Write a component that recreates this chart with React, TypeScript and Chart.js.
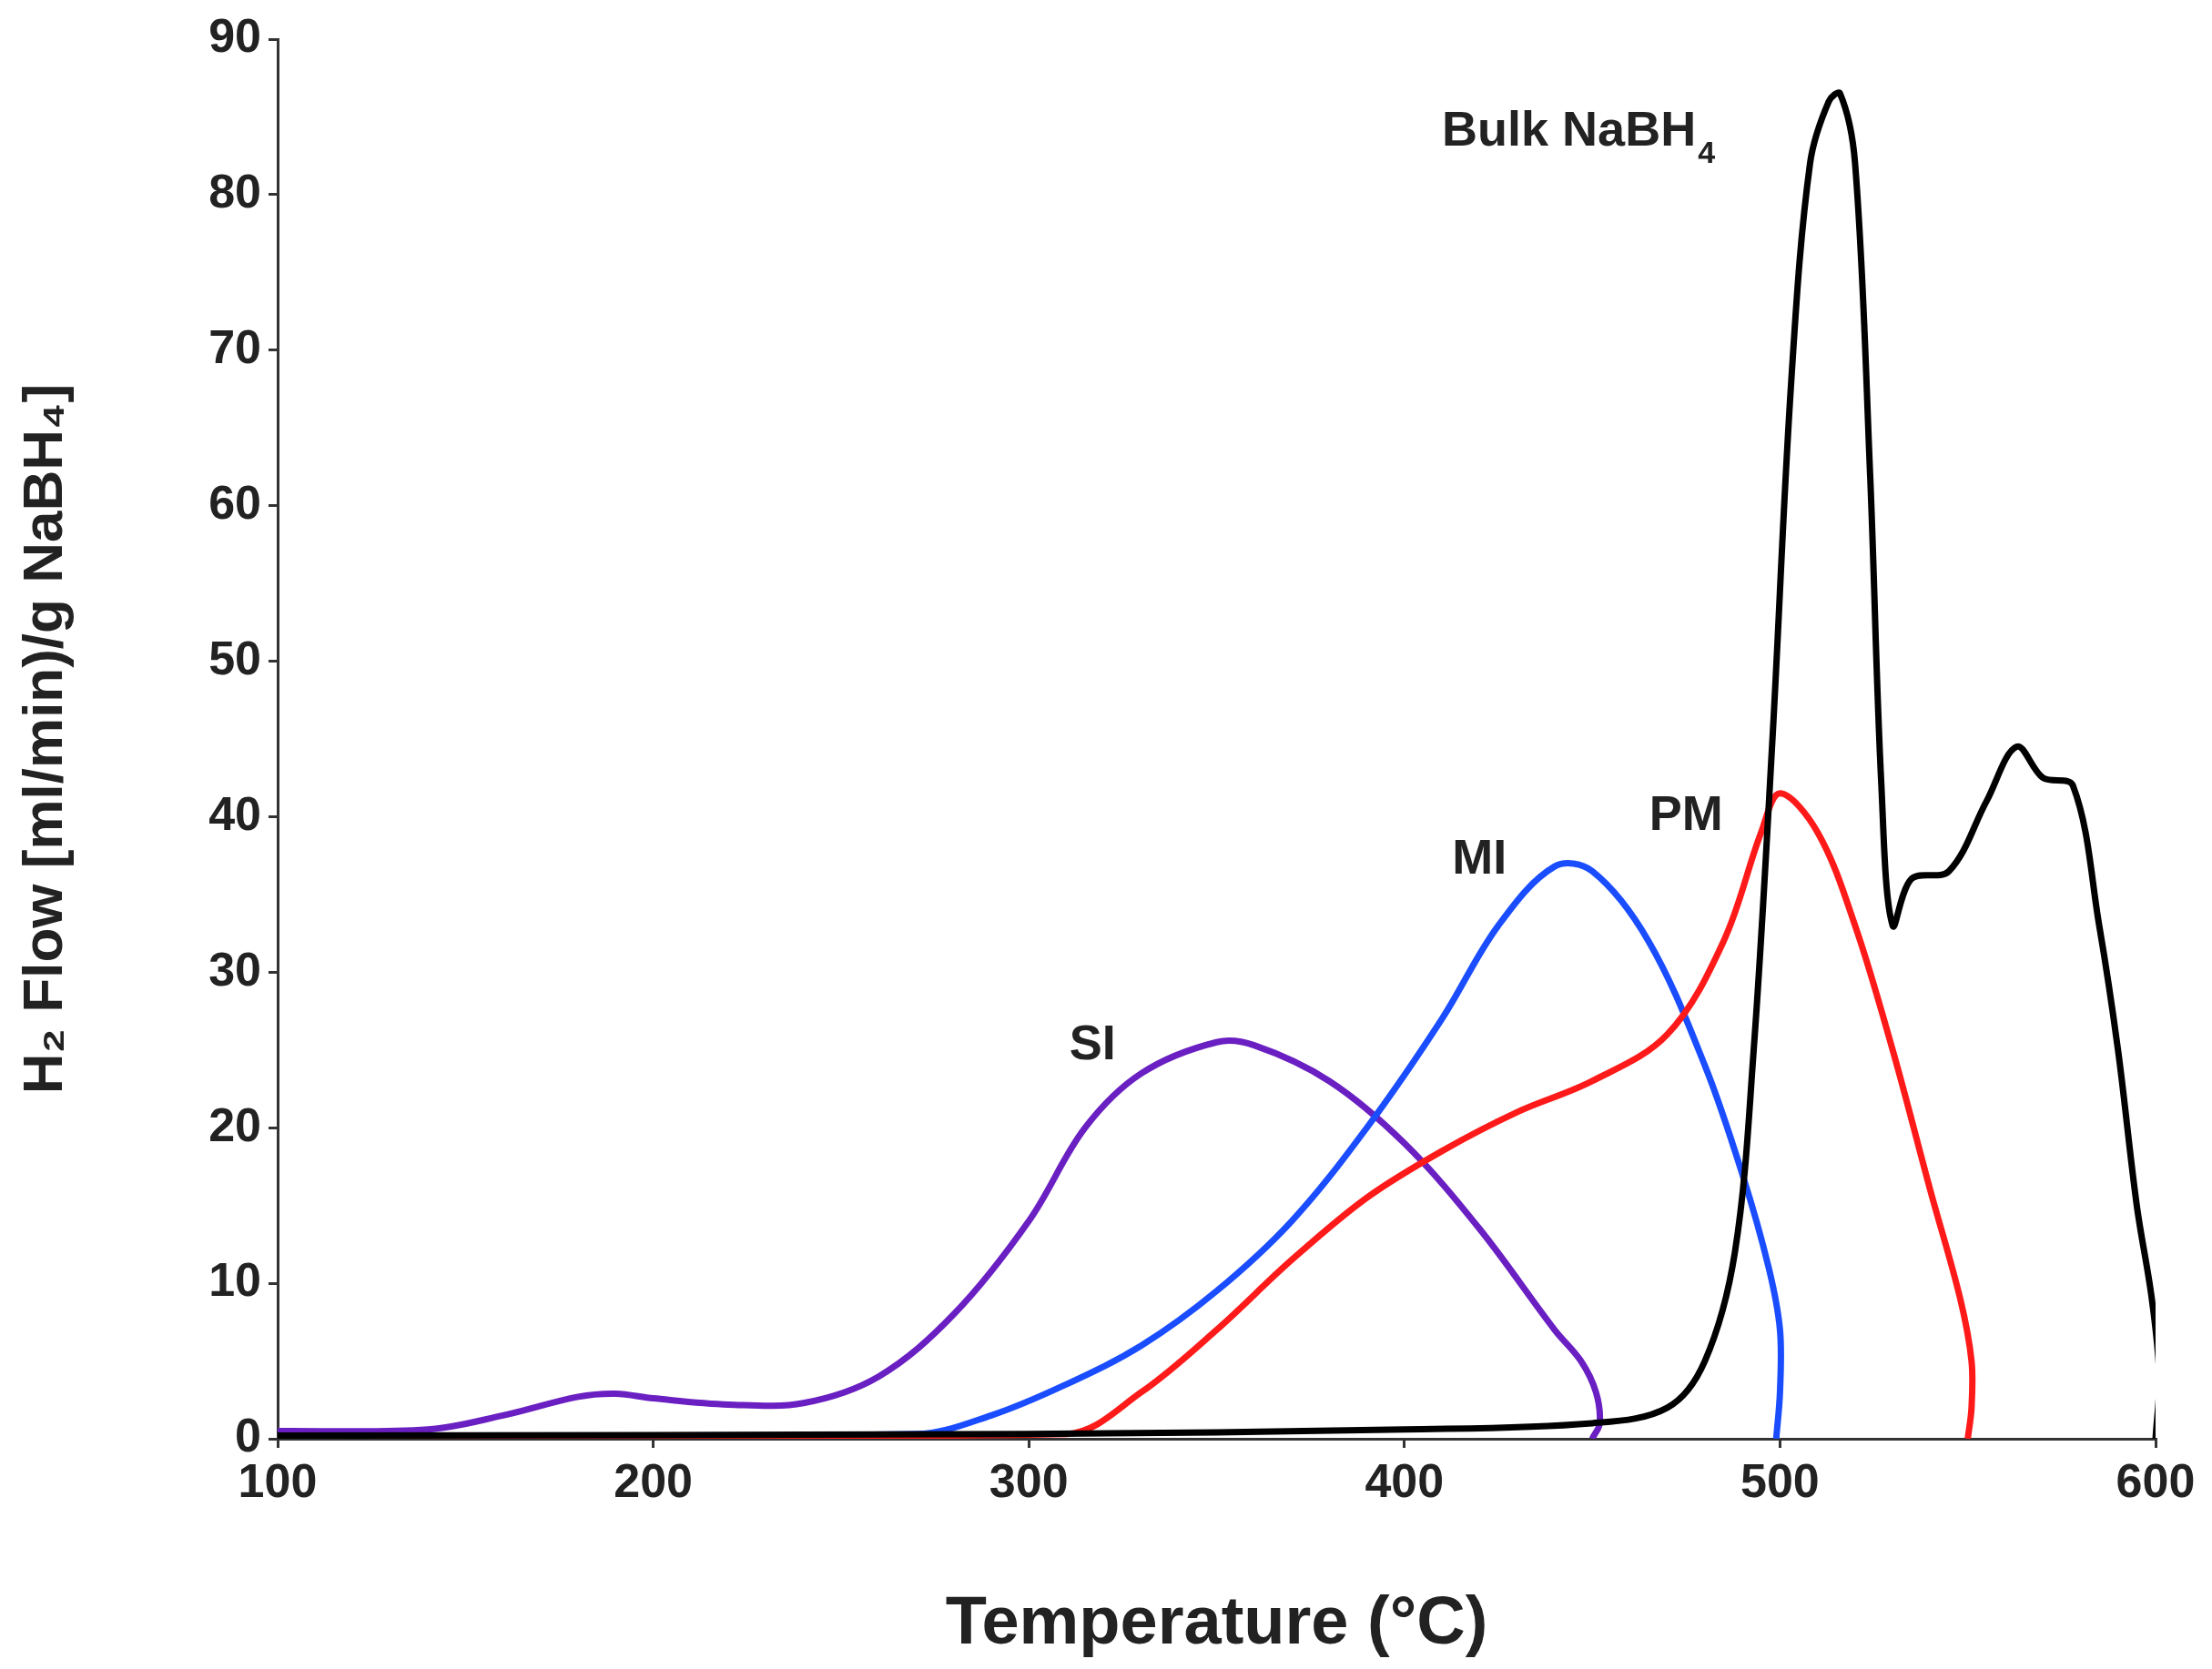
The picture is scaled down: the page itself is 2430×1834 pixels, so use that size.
import React, { useEffect, useRef } from "react";
import { Chart, registerables } from "chart.js";
Chart.register(...registerables);

const siX = [100, 140, 160, 180, 190, 200, 220, 240, 260, 280, 300, 315, 330, 350, 360, 380, 400, 420, 440, 447, 451, 452, 450];
const siY = [0.5, 0.6, 1.5, 2.7, 2.9, 2.6, 2.2, 2.3, 4, 8, 14, 20, 23.5, 25.5, 25.3, 23, 19, 13.5, 7, 5, 3, 1, 0];
const miX = [100, 270, 290, 310, 330, 350, 370, 390, 410, 425, 440, 450, 465, 480, 490, 497, 500, 500, 499];
const miY = [0.2, 0.3, 1.5, 3.5, 6, 9.5, 14, 20, 27, 33, 36.8, 36.5, 32, 24, 17, 11, 7, 3, 0];
const pmX = [100, 310, 330, 350, 370, 390, 410, 430, 450, 470, 485, 495, 500, 510, 520, 530, 540, 548, 551, 551, 550];
const pmY = [0.1, 0.3, 3, 7, 11.5, 15.5, 18.5, 21, 23, 26, 32, 39, 41.5, 39, 33, 25, 16, 9, 5, 2, 0];
const bulkX = [100, 300, 400, 450, 470, 480, 488, 493, 498, 503, 508, 513, 516, 520, 524, 527, 530, 535, 545, 555, 563, 570, 578, 585, 590, 595, 599, 601, 600];
const bulkY = [0.2, 0.3, 0.6, 1, 2, 5, 12, 25, 45, 68, 82, 86, 86.5, 82, 62, 42, 33, 36, 36.5, 41, 44.5, 42.5, 42, 33, 25, 15, 9, 4, 0];
const xTicks = [100, 200, 300, 400, 500, 600];
const yTicks = [0, 10, 20, 30, 40, 50, 60, 70, 80, 90];

const pts = (xs: number[], ys: number[]) => xs.map((x, i) => ({ x, y: ys[i] }));
const FONT = "'Liberation Sans', Arial, sans-serif";

const labelsPlugin = {
  id: "lbls",
  afterDatasetsDraw(chart: any) {
    const { ctx, scales } = chart;
    const X = scales.x, Y = scales.y;
    ctx.save();
    ctx.fillStyle = "#222";
    ctx.textBaseline = "middle";
    ctx.textAlign = "center";
    ctx.font = `bold 54px ${FONT}`;
    const t = (s: string, x: number, y: number) => ctx.fillText(s, X.getPixelForValue(x), Y.getPixelForValue(y));
    t("SI", 317, 25.3);
    t("MI", 420, 37.2);
    t("PM", 475, 40);
    const bx = X.getPixelForValue(450), by = Y.getPixelForValue(84);
    ctx.textAlign = "left";
    const s = "Bulk NaBH";
    const w = ctx.measureText(s).width;
    ctx.fillText(s, bx - 165, by);
    ctx.font = `bold 34px ${FONT}`;
    ctx.fillText("4", bx - 165 + w + 2, by + 24);
    ctx.restore();
  },
};

export default function App() {
  const ref = useRef<HTMLCanvasElement>(null);
  useEffect(() => {
    document.body.style.margin = "0";
    const ds = (label: string, xs: number[], ys: number[], color: string) => ({
      label, data: pts(xs, ys), borderColor: color, borderWidth: 7, pointRadius: 0,
      showLine: true, tension: 0.35, fill: false,
    });
    const chart = new Chart(ref.current!, {
      type: "scatter",
      data: {
        datasets: [
          ds("Bulk", bulkX, bulkY, "#000000"),
          ds("PM", pmX, pmY, "#ff1a1a"),
          ds("MI", miX, miY, "#1a4dff"),
          ds("SI", siX, siY, "#6a1fc2"),
        ],
      },
      options: {
        animation: false,
        responsive: false,
        layout: { padding: { top: 43, right: 62, left: 10, bottom: 0 } },
        plugins: { legend: { display: false }, tooltip: { enabled: false } },
        scales: {
          x: {
            min: 100, max: 600,
            afterBuildTicks: (s: any) => { s.ticks = xTicks.map((v) => ({ value: v })); },
            afterFit: (s: any) => { s.height = 253; },
            grid: { drawOnChartArea: false, drawTicks: true, tickLength: 10, color: "#333", lineWidth: 3 },
            border: { color: "#333", width: 3 },
            ticks: { color: "#222", font: { family: FONT, size: 52, weight: "bold" }, padding: 8, maxRotation: 0 },
            title: { display: true, text: "Temperature (°C)", color: "#222", font: { family: FONT, size: 74, weight: "bold" }, padding: { top: 30 } },
          },
          y: {
            min: 0, max: 90,
            afterBuildTicks: (s: any) => { s.ticks = yTicks.map((v) => ({ value: v })); },
            afterFit: (s: any) => { s.width = 295; },
            grid: { drawOnChartArea: false, drawTicks: true, tickLength: 10, color: "#333", lineWidth: 3 },
            border: { color: "#333", width: 3 },
            ticks: { color: "#222", font: { family: FONT, size: 52, weight: "bold" }, padding: 8 },
            title: { display: true, text: "H₂ Flow [ml/min)/g NaBH₄]", color: "#222", font: { family: FONT, size: 62, weight: "bold" }, padding: { bottom: 14 } },
          },
        },
      },
      plugins: [labelsPlugin],
    });
    return () => chart.destroy();
  }, []);
  return <canvas ref={ref} width={2430} height={1834} style={{ display: "block" }} />;
}
